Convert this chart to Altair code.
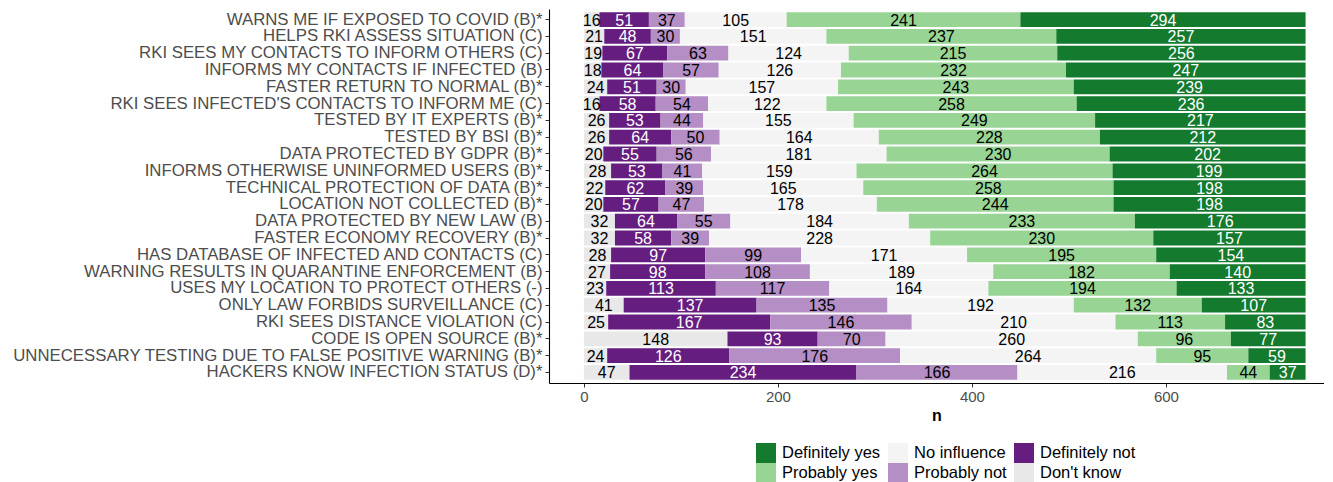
import altair as alt
import pandas as pd

items = [
    "WARNS ME IF EXPOSED TO COVID (B)*",
    "HELPS RKI ASSESS SITUATION (C)",
    "RKI SEES MY CONTACTS TO INFORM OTHERS (C)",
    "INFORMS MY CONTACTS IF INFECTED (B)",
    "FASTER RETURN TO NORMAL (B)*",
    "RKI SEES INFECTED'S CONTACTS TO INFORM ME (C)",
    "TESTED BY IT EXPERTS (B)*",
    "TESTED BY BSI (B)*",
    "DATA PROTECTED BY GDPR (B)*",
    "INFORMS OTHERWISE UNINFORMED USERS (B)*",
    "TECHNICAL PROTECTION OF DATA (B)*",
    "LOCATION NOT COLLECTED (B)*",
    "DATA PROTECTED BY NEW LAW (B)",
    "FASTER ECONOMY RECOVERY (B)*",
    "HAS DATABASE OF INFECTED AND CONTACTS (C)",
    "WARNING RESULTS IN QUARANTINE ENFORCEMENT (B)",
    "USES MY LOCATION TO PROTECT OTHERS (-)",
    "ONLY LAW FORBIDS SURVEILLANCE (C)",
    "RKI SEES DISTANCE VIOLATION (C)",
    "CODE IS OPEN SOURCE (B)*",
    "UNNECESSARY TESTING DUE TO FALSE POSITIVE WARNING (B)*",
    "HACKERS KNOW INFECTION STATUS (D)*",
]

# stack order, left to right
categories = ["Don't know", "Definitely not", "Probably not", "No influence", "Probably yes", "Definitely yes"]

dont_know      = [16, 21, 19, 18, 24, 16, 26, 26, 20, 28, 22, 20, 32, 32, 28, 27, 23, 41, 25, 148, 24, 47]
definitely_not = [51, 48, 67, 64, 51, 58, 53, 64, 55, 53, 62, 57, 64, 58, 97, 98, 113, 137, 167, 93, 126, 234]
probably_not   = [37, 30, 63, 57, 30, 54, 44, 50, 56, 41, 39, 47, 55, 39, 99, 108, 117, 135, 146, 70, 176, 166]
no_influence   = [105, 151, 124, 126, 157, 122, 155, 164, 181, 159, 165, 178, 184, 228, 171, 189, 164, 192, 210, 260, 264, 216]
probably_yes   = [241, 237, 215, 232, 243, 258, 249, 228, 230, 264, 258, 244, 233, 230, 195, 182, 194, 132, 113, 96, 95, 44]
definitely_yes = [294, 257, 256, 247, 239, 236, 217, 212, 202, 199, 198, 198, 176, 157, 154, 140, 133, 107, 83, 77, 59, 37]

series = [dont_know, definitely_not, probably_not, no_influence, probably_yes, definitely_yes]

legend_order = ["Definitely yes", "Probably yes", "No influence", "Probably not", "Definitely not", "Don't know"]
legend_colors = ["#137a2e", "#98d594", "#f4f4f4", "#b48ec4", "#661d80", "#e8e8e8"]

rows = []
for ci, (cat, vals) in enumerate(zip(categories, series)):
    for item, v in zip(items, vals):
        rows.append({"item": item, "category": cat, "n": v, "ord": ci})
df = pd.DataFrame(rows)

FONT = "Liberation Sans"

base = alt.Chart(df).transform_stack(
    stack="n", groupby=["item"], as_=["x0", "x1"],
    sort=[alt.SortField("ord", order="ascending")]
).transform_calculate(mid="(datum.x0 + datum.x1) / 2")

yenc = alt.Y("item:N", sort=items,
             scale=alt.Scale(paddingInner=0.12, paddingOuter=0.19),
             axis=alt.Axis(title=None, labelFontSize=16.8, labelColor="#4d4d4d",
                           labelPadding=3, tickSize=4, tickColor="#333333",
                           domainColor="#000000", labelFont=FONT, labelLimit=0))

xscale = alt.Scale(domain=[-36, 763], nice=False, zero=False)

bars = base.mark_bar().encode(
    y=yenc,
    x=alt.X("x0:Q", scale=xscale,
            axis=alt.Axis(values=[0, 200, 400, 600], title="n", grid=False,
                          labelFontSize=15, labelColor="#4d4d4d", tickSize=4,
                          tickColor="#333333", domainColor="#000000",
                          labelPadding=2, titleFontSize=16, titleFontWeight="bold",
                          titleColor="#000000", titlePadding=3, labelFont=FONT,
                          titleFont=FONT)),
    x2="x1:Q",
    color=alt.Color("category:N",
                    scale=alt.Scale(domain=legend_order, range=legend_colors),
                    legend=alt.Legend(title=None, orient="none", legendX=207, legendY=434,
                                      columns=3, symbolType="square", symbolSize=400,
                                      symbolStrokeWidth=0, labelFontSize=16.5, labelOffset=6,
                                      columnPadding=7, rowPadding=0, padding=0,
                                      labelFont=FONT, labelColor="#000000")),
)

text = base.mark_text(fontSize=16, baseline="middle", dy=1, font=FONT).encode(
    y=alt.Y("item:N", sort=items),
    x=alt.X("mid:Q", scale=xscale),
    text="n:Q",
    color=alt.condition(
        "datum.category == 'Definitely yes' || datum.category == 'Definitely not'",
        alt.value("white"), alt.value("black")),
)

chart = alt.layer(bars, text).properties(
    width=775, height=374,
    autosize=alt.AutoSizeParams(type="none"),
    padding={"left": 541, "top": 1, "right": 0, "bottom": 106},
).configure_view(stroke=None).configure_axis(domainWidth=1.1)

chart.save("out.html", embed_options={"renderer": "svg", "actions": False})
